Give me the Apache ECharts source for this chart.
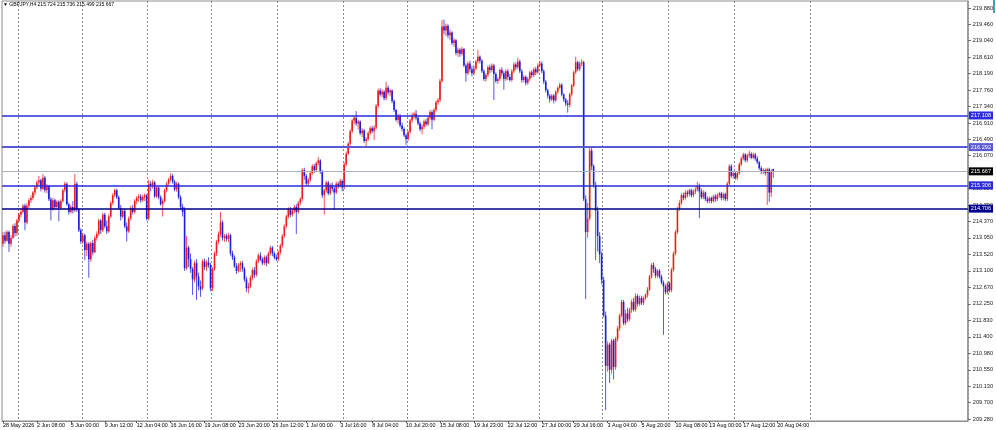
<!DOCTYPE html>
<html><head><meta charset="utf-8">
<script src="https://cdn.jsdelivr.net/npm/echarts@6/dist/echarts.min.js"></script>
<style>html,body{margin:0;padding:0;background:#fff}#c{width:996px;height:430px}</style>
</head><body><div id="c"></div>
<script>
const symbolTitle = 'GBPJPY,H4';
const lastOHLC = ['215.724', '215.736', '215.499', '215.667'];
const timeLabels = ['28 May 2026','2 Jun 08:00','5 Jun 00:00','9 Jun 12:00','12 Jun 04:00','16 Jun 16:00','19 Jun 08:00','23 Jun 20:00','26 Jun 12:00','1 Jul 00:00','3 Jul 16:00','8 Jul 04:00','10 Jul 20:00','15 Jul 08:00','19 Jul 23:00','22 Jul 12:00','27 Jul 00:00','29 Jul 16:00','3 Aug 04:00','5 Aug 20:00','10 Aug 08:00','13 Aug 00:00','17 Aug 12:00','20 Aug 04:00'];
const priceTicks = [219.88,219.46,219.04,218.61,218.19,217.76,217.34,216.91,216.49,216.07,215.65,215.22,214.79,214.37,213.95,213.52,213.10,212.67,212.25,211.83,211.40,210.98,210.55,210.13,209.70,209.28];
const levels = [217.108, 216.292, 215.306, 214.706];
const currentPrice = 215.667;

// candles: [open, close, low, high]
const barsA = [
[213.80,214.02,213.72,214.10],[214.02,213.88,213.80,214.12],[213.88,214.10,213.85,214.15],[214.10,213.80,213.59,214.14],[213.80,213.95,213.72,214.02],
[213.95,214.26,213.92,214.30],[214.26,214.08,213.98,214.33],[214.08,214.40,214.00,214.45],[214.40,214.55,214.36,214.60],[214.55,214.62,214.48,214.70],
[214.62,214.78,214.58,214.82],[214.78,214.35,214.15,214.83],[214.35,214.78,214.30,214.84],[214.78,214.92,214.72,214.97],[214.92,214.98,214.85,215.05],
[214.98,215.12,214.92,215.16],[215.12,215.25,215.05,215.30],[215.25,215.38,215.20,215.43],[215.38,215.44,215.30,215.55],[215.44,215.22,215.15,215.48],
[215.22,215.50,215.18,215.60],[215.50,215.18,215.12,215.55],[215.18,215.28,215.10,215.34],[215.28,214.95,214.90,215.32],[214.95,214.70,214.40,215.00],
[214.70,214.92,214.65,214.98],[214.92,214.75,214.68,214.96],[214.75,214.88,214.70,214.92],[214.88,214.72,214.38,214.92],[214.72,214.90,214.68,214.95],
[214.90,215.18,214.86,215.22],[215.18,215.35,215.12,215.40],[215.35,214.82,214.78,215.38],[214.82,214.62,214.55,214.86],[214.62,214.75,214.58,214.80],
[214.75,214.66,214.58,214.90],[214.66,215.35,214.62,215.60],[215.35,214.68,214.62,215.40],[214.68,214.15,214.10,214.72],[214.15,213.86,213.80,214.20],
[213.86,214.02,213.80,214.08],[214.02,213.64,213.38,214.06],[213.64,213.80,213.48,213.85],[213.80,213.40,212.92,213.84],[213.40,213.82,213.33,213.86],
[213.82,213.58,213.50,213.90],[213.58,213.95,213.55,214.00],[213.95,214.05,213.88,214.12],[214.05,214.40,214.00,214.45],[214.40,214.15,214.05,214.44],
[214.15,214.55,214.10,214.60],[214.55,214.25,214.20,214.60],[214.25,214.12,214.05,214.40],[214.12,214.50,214.08,214.56],[214.50,214.85,214.46,214.90],
[214.85,215.05,214.80,215.10],[215.05,215.18,215.00,215.22],[215.18,215.00,214.95,215.22],[215.00,214.72,214.68,215.04],[214.72,214.50,214.40,214.80],
[214.50,214.65,214.45,214.70],[214.65,214.25,214.20,214.70],[214.25,214.12,213.86,214.35],[214.12,214.45,214.08,214.50],[214.45,214.72,214.40,214.78],
[214.72,214.62,214.55,214.80],[214.62,214.90,214.58,214.95],[214.90,214.98,214.82,215.03],[214.98,215.02,214.88,215.08],[215.02,214.92,214.86,215.08],
[214.92,215.00,214.88,215.06],[215.00,215.05,214.90,215.10],[215.05,214.45,214.40,215.08],[214.45,215.35,214.40,215.45],[215.35,215.30,215.15,215.42],
[215.30,215.38,215.22,215.45],[215.38,215.02,214.98,215.42],[215.02,215.25,214.98,215.30],[215.25,215.00,214.95,215.28],[215.00,214.82,214.78,215.05],
[214.82,214.90,214.50,214.96],[214.90,215.18,214.86,215.22],[215.18,215.35,215.12,215.40],[215.35,215.45,215.30,215.50],[215.45,215.55,215.40,215.62],
[215.55,215.40,215.35,215.60],[215.40,215.20,215.15,215.45],[215.20,215.35,215.14,215.40],[215.35,215.00,214.95,215.38],[215.00,214.75,214.68,215.05],
[214.75,214.62,214.50,214.82],[214.70,213.17,213.10,214.74],[213.17,213.70,213.12,214.00],[213.70,213.40,213.20,213.75],[213.40,213.15,213.05,213.55],
[213.15,212.88,212.48,213.20],[212.88,213.30,212.80,213.36],[213.30,212.95,212.35,213.40],[212.95,212.70,212.60,213.05],[212.70,212.62,212.43,212.85]
];
const barsB = [
[212.65,213.35,212.60,213.40],[213.35,213.20,213.12,213.42],[213.20,213.32,213.10,213.38],[213.32,213.25,213.18,213.45],[213.25,212.65,212.58,213.30],
[212.65,213.15,212.58,213.20],[213.15,213.55,213.10,213.60],[213.55,213.85,213.48,213.90],[213.85,214.05,213.80,214.12],[214.05,214.35,213.98,214.62],
[214.35,213.95,213.88,214.40],[213.95,214.00,213.85,214.05],[214.00,213.92,213.86,214.06],[213.92,214.02,213.84,214.08],[214.02,213.55,213.50,214.06],
[213.55,213.45,213.38,213.62],[213.45,213.22,213.18,213.50],[213.22,213.10,213.02,213.30],[213.10,213.25,213.05,213.30],[213.25,213.30,213.08,213.35],
[213.30,213.15,213.08,213.36],[213.15,212.88,212.82,213.20],[212.88,212.65,212.55,212.95],[212.65,212.70,212.52,212.80],[212.70,212.92,212.65,212.98],
[212.92,213.12,212.85,213.18],[213.12,213.00,212.92,213.20],[213.00,213.35,212.95,213.40],[213.35,213.50,213.30,213.55],[213.50,213.40,213.35,213.58],
[213.40,213.30,213.25,213.45],[213.30,213.45,213.25,213.50],[213.45,213.30,213.22,213.50],[213.30,213.55,213.28,213.60],[213.55,213.70,213.50,213.75],
[213.70,213.55,213.48,213.74],[213.55,213.45,213.40,213.60],[213.45,213.40,213.35,213.52],[213.40,213.58,213.36,213.62],[213.58,213.75,213.52,213.80],
[213.75,214.00,213.70,214.05],[214.00,214.25,213.95,214.30],[214.25,214.50,214.20,214.55],[214.50,214.68,214.45,214.74],[214.68,214.55,214.48,214.75],
[214.55,214.65,214.50,214.70],[214.65,214.75,214.58,214.80],[214.75,214.62,214.05,214.82],[214.62,214.85,214.58,214.90],[214.85,214.95,214.80,215.00],
[214.95,215.70,214.90,215.75],[215.70,215.55,215.45,215.76],[215.55,215.35,215.30,215.60],[215.35,215.45,215.28,215.50],[215.45,215.62,215.40,215.66],
[215.62,215.80,215.58,215.85],[215.80,215.70,215.62,215.86],[215.70,215.88,215.65,215.92],[215.88,215.95,215.82,216.04],[215.95,215.65,215.60,215.98],
[215.65,215.05,214.98,215.70],[215.05,215.18,214.55,215.22],[215.18,215.38,215.12,215.42],[215.38,215.10,215.05,215.42],[215.10,215.32,215.05,215.36],
[215.32,215.22,215.15,215.38],[215.22,215.12,214.67,215.28],[215.12,215.35,215.08,215.40],[215.35,215.28,215.22,215.40],[215.28,215.42,215.25,215.48],
[215.42,215.25,215.15,215.46],[215.25,215.85,215.20,215.90],[215.85,216.12,215.80,216.18],[216.12,216.38,216.08,216.42],[216.38,216.70,216.34,216.75],
[216.70,216.98,216.65,217.02],[216.98,217.05,216.88,217.10],[217.05,216.90,216.84,217.22],[216.90,216.95,216.75,217.00],[216.95,216.65,216.60,216.98],
[216.65,216.72,216.55,216.78],[216.72,216.45,216.40,216.76],[216.45,216.50,216.30,216.55],[216.50,216.65,216.45,216.70],[216.65,216.78,216.60,216.82],
[216.78,216.70,216.65,216.84],[216.70,216.80,216.48,216.85],[216.80,217.35,216.75,217.40],[217.35,217.75,217.30,217.80],[217.75,217.65,217.60,217.82],
[217.65,217.72,217.58,217.78],[217.72,217.55,217.50,217.76],[217.55,217.82,217.50,217.98],[217.82,217.70,217.64,217.88],[217.70,217.75,217.60,217.80],
[217.75,217.48,217.42,217.78],[217.48,217.25,217.20,217.52],[217.25,216.99,216.95,217.28],[216.99,217.10,216.90,217.15],[217.10,216.85,216.80,217.14],
[216.85,216.76,216.70,216.92],[216.76,216.60,216.55,216.80],[216.60,216.50,216.35,216.64],[216.50,216.68,216.45,216.72],[216.68,216.98,216.64,217.02],
[216.98,217.12,216.92,217.18],[217.12,217.15,217.02,217.20],[217.15,217.05,216.98,217.25],[217.05,216.90,216.85,217.10],[216.90,216.75,216.70,216.95],
[216.75,216.82,216.62,216.88],[216.82,216.95,216.76,217.00],[216.95,216.88,216.82,217.02],[216.88,217.05,216.84,217.10],[217.05,217.20,217.00,217.25],
[217.20,217.00,216.75,217.24],[217.00,217.25,216.96,217.30],[217.25,217.45,217.20,217.50],[217.45,217.50,217.38,217.56],[217.50,218.00,217.45,218.05],
[218.00,219.40,217.95,219.57]
];
const barsC = [
[219.40,219.30,219.20,219.58],[219.30,219.42,219.15,219.48],[219.42,219.18,219.10,219.46],[219.18,219.25,219.05,219.32],[219.25,218.98,218.92,219.28],
[218.98,219.05,218.88,219.10],[219.05,218.72,218.66,219.08],[218.72,218.80,218.62,218.86],[218.80,218.70,218.62,218.85],[218.70,218.82,218.65,218.88],
[218.82,218.40,218.35,218.85],[218.40,218.20,217.98,218.45],[218.20,218.45,218.15,218.50],[218.45,218.30,218.22,218.52],[218.30,218.20,218.12,218.38],
[218.20,218.32,218.15,218.38],[218.32,218.50,218.28,218.55],[218.50,218.62,218.45,218.80],[218.62,218.52,218.45,218.66],[218.52,218.25,218.20,218.56],
[218.25,218.05,218.00,218.30],[218.05,218.15,217.98,218.20],[218.15,218.35,218.10,218.40],[218.35,218.28,218.20,218.42],[218.28,218.40,218.22,218.45],
[218.40,218.18,217.51,218.44],[218.18,218.00,217.95,218.22],[218.00,218.05,217.92,218.10],[218.05,218.28,218.00,218.32],[218.28,218.20,218.12,218.35],
[218.20,218.05,217.77,218.25],[218.05,218.25,218.00,218.30],[218.25,218.10,218.02,218.30],[218.10,218.02,217.98,218.18],[218.02,218.25,217.98,218.30],
[218.25,218.42,218.20,218.48],[218.42,218.35,218.28,218.48],[218.35,218.50,218.30,218.60],[218.50,218.25,218.20,218.55],[218.25,218.02,217.96,218.30],
[218.02,218.10,217.96,218.15],[218.10,217.95,217.88,218.14],[217.95,218.05,217.90,218.10],[218.05,218.22,218.00,218.26],[218.22,218.15,218.08,218.28],
[218.15,218.30,218.10,218.34],[218.30,218.22,218.15,218.36],[218.22,218.40,218.18,218.45],[218.40,218.45,218.35,218.52],[218.45,218.25,218.20,218.50],
[218.25,217.98,217.92,218.30],[217.98,217.76,217.70,218.02],[217.76,217.62,217.55,217.80],[217.62,217.52,217.44,217.66],[217.52,217.62,217.48,217.66],
[217.62,217.50,217.42,217.66],[217.50,217.72,217.46,217.76],[217.72,217.82,217.66,217.86],[217.82,217.90,217.78,217.95],[217.90,217.65,217.60,217.94],
[217.65,217.52,217.46,217.68],[217.52,217.42,217.35,217.56],[217.42,217.38,217.18,217.50],[217.38,217.65,217.32,217.70],[217.65,217.88,217.60,217.92],
[217.88,218.22,217.84,218.26],[218.22,218.48,218.18,218.62],[218.48,218.30,218.25,218.52],[218.30,218.45,218.25,218.50],[218.45,218.48,218.38,218.56],
[218.48,214.95,214.90,218.52]
];
const barsD = [
[214.95,214.10,212.37,215.05],[214.10,214.45,213.95,214.85],[214.45,216.20,214.40,216.30],[216.20,215.80,215.70,216.28],[215.80,215.32,215.25,215.85],
[215.32,214.65,213.38,215.40],[214.65,214.00,213.60,214.75],[214.00,213.52,213.30,214.10],[213.52,212.87,212.75,213.60],[212.87,211.95,211.90,212.95],
[211.95,210.65,209.51,212.05],[210.65,211.20,210.50,211.28],[211.20,210.55,210.21,211.25],[210.55,211.30,210.45,211.35],[211.30,210.62,210.30,211.35],
[210.62,211.35,210.55,211.40],[211.35,211.62,211.28,211.68],[211.62,211.95,211.55,212.00],[211.95,212.30,211.90,212.35],[212.30,211.75,211.70,212.35],
[211.75,212.00,211.70,212.10],[212.00,211.85,211.78,212.15],[211.85,212.10,211.80,212.15],[212.10,212.30,212.02,212.36],[212.30,212.10,212.05,212.40],
[212.10,212.45,212.05,212.52],[212.45,212.25,212.18,212.50],[212.25,212.40,212.20,212.46],[212.40,212.28,212.22,212.46],[212.28,212.40,212.22,212.44],
[212.40,212.48,212.35,212.52],[212.48,212.62,212.42,212.68],[212.62,212.95,212.58,213.00],[212.95,213.25,212.90,213.30],[213.25,213.15,213.05,213.32],
[213.15,212.98,212.92,213.20],[212.98,213.10,212.92,213.14],[213.10,212.95,212.90,213.15],[212.95,212.80,212.75,213.00],[212.80,212.70,211.45,212.85],
[212.70,212.55,212.50,212.75],[212.55,212.78,212.50,212.82],[212.78,212.60,212.55,212.82],[212.60,213.12,212.55,213.18],[213.12,213.55,213.08,213.60],
[213.55,214.10,213.50,214.15],[214.10,214.70,214.05,214.75],[214.70,214.85,214.65,214.92],[214.85,215.05,214.80,215.10],[215.05,214.98,214.92,215.12],
[214.98,215.12,214.94,215.18],[215.12,215.08,215.00,215.18],[215.08,215.18,215.02,215.22],[215.18,215.05,215.00,215.22],[215.05,215.15,215.00,215.20],
[215.15,215.20,215.08,215.26],[215.20,215.30,215.15,215.40],[215.30,215.15,214.46,215.35],[215.15,215.00,214.95,215.22],[215.00,215.12,214.95,215.18],
[215.12,214.95,214.90,215.15],[214.95,214.90,214.84,215.02],[214.90,214.98,214.85,215.02],[214.98,214.90,214.84,215.02],[214.90,215.02,214.86,215.06],
[215.02,214.95,214.88,215.08],[214.95,215.05,214.90,215.10],[215.05,215.10,214.98,215.14],[215.10,214.98,214.92,215.14],[214.98,215.08,214.92,215.12],
[215.08,214.95,214.90,215.12],[214.95,215.35,214.90,215.40],[215.35,215.80,215.30,215.85],[215.80,215.55,215.50,215.85],[215.55,215.62,215.48,215.68],
[215.62,215.50,215.45,215.66],[215.50,215.62,215.44,215.66],[215.62,215.85,215.58,215.90],[215.85,216.00,215.80,216.05],[216.00,216.10,215.95,216.15],
[216.10,215.95,215.90,216.14],[215.95,216.08,215.90,216.12],[216.08,216.12,216.02,216.20],[216.12,216.02,215.98,216.16],[216.02,216.10,215.98,216.15],
[216.10,216.00,215.94,216.14],[216.00,215.90,215.86,216.06],[215.90,215.75,215.70,215.94],[215.75,215.65,215.60,215.80],[215.65,215.70,215.60,215.75],
[215.70,215.62,215.56,215.74],[215.62,215.72,214.80,215.76],[215.72,215.12,214.88,215.76],[215.12,215.68,215.00,215.72],[215.724,215.667,215.499,215.736]
];

const candles = barsA.concat(barsB, barsC, barsD);

// layout helpers (axis slots, label spacing, grid spacing)
const SLOTS = 484;
const LABEL_STEP = 16.85;
const cats = [];
for (let i = 0; i < SLOTS; i++) cats.push(String(i));
const labelAt = {};
timeLabels.forEach((t, k) => { labelAt[Math.round(k * LABEL_STEP)] = t; });
const gridSet = new Set();
for (let k = 0; k < 12; k++) gridSet.add(Math.round(7.5 + 32.65 * k));
gridSet.add(405);

const UP = '#ec1c1c', DOWN = '#1c1ce2';
const levelStyles = [
  {c: '#2b2bdc', w: 1.6},
  {c: '#5a5ad2', w: 2},
  {c: '#2b2bdc', w: 1.6},
  {c: '#00008a', w: 1.5}
];
const FONT = 'Liberation Sans';

const markData = levels.map((v, k) => ({
  yAxis: v,
  lineStyle: {color: levelStyles[k].c, width: levelStyles[k].w, type: 'solid'},
  label: {backgroundColor: levelStyles[k].c}
}));
markData.push({
  yAxis: currentPrice,
  lineStyle: {color: '#aab1bc', width: 1, type: 'solid'},
  label: {backgroundColor: '#000'}
});

const seriesData = candles.map((b, i) => [i, b[0], b[1], b[2], b[3]]);

function renderCandle(params, api) {
  const x = api.value(0);
  const o = api.value(1), c = api.value(2), l = api.value(3), h = api.value(4);
  const po = api.coord([x, o]), pc = api.coord([x, c]);
  const pl = api.coord([x, l]), ph = api.coord([x, h]);
  const up = c >= o;
  const col = up ? UP : DOWN;
  const bw = 1.6;
  const top = Math.min(po[1], pc[1]);
  const hgt = Math.max(1, Math.abs(po[1] - pc[1]));
  return {
    type: 'group',
    children: [
      {type: 'line', shape: {x1: po[0], y1: ph[1], x2: po[0], y2: pl[1]}, style: {stroke: col, lineWidth: 1, opacity: 0.75}},
      {type: 'rect', shape: {x: po[0] - bw / 2, y: top, width: bw, height: hgt}, style: {fill: col}}
    ]
  };
}

const chart = echarts.init(document.getElementById('c'), null, {renderer: 'canvas'});
chart.setOption({
  animation: false,
  backgroundColor: '#ffffff',
  textStyle: {fontFamily: FONT},
  title: {
    text: '▼ ' + symbolTitle + ' ' + lastOHLC.join(' '),
    left: 3, top: 2, padding: 0,
    textStyle: {fontSize: 5, fontWeight: 'normal', color: '#000', fontFamily: FONT}
  },
  graphic: [{type: 'rect', right: 1, top: 0, shape: {width: 2, height: 13}, style: {fill: '#3aa8a8'}}],
  grid: {left: 1, right: 28, top: 1, bottom: 9, show: true, borderColor: '#8c8c8c', borderWidth: 1},
  xAxis: {
    type: 'category', data: cats, boundaryGap: true,
    axisLine: {lineStyle: {color: '#8c8c8c', width: 1}},
    axisTick: {show: true, alignWithLabel: true, interval: (i) => (i in labelAt), length: 2, lineStyle: {color: '#555'}},
    axisLabel: {interval: 0, formatter: (v, i) => labelAt[i] || '', align: 'left', margin: 2, fontSize: 5.4, color: '#000', fontFamily: FONT},
    splitLine: {show: true, interval: (i) => gridSet.has(i), lineStyle: {color: '#8a8a8a', type: [2, 2], width: 1}}
  },
  yAxis: {
    type: 'value', position: 'right', min: 209.2284, max: 220.0605,
    axisLine: {show: true, lineStyle: {color: '#9a9a9a', width: 1.5}},
    axisTick: {show: true, customValues: priceTicks, length: 3, lineStyle: {color: '#666'}},
    axisLabel: {customValues: priceTicks, formatter: (v) => v.toFixed(3), fontSize: 5.6, color: '#222', margin: 5, fontFamily: FONT},
    splitLine: {show: false}
  },
  series: [{
    type: 'custom',
    renderItem: renderCandle,
    data: seriesData,
    encode: {x: 0, y: [1, 2, 3, 4]},
    clip: true,
    markLine: {
      symbol: 'none', silent: true, animation: false, precision: 3,
      label: {show: true, position: 'end', distance: 1, formatter: (p) => Number(p.value).toFixed(3), color: '#fff', fontSize: 5.6, padding: [1, 2, 1, 2], fontFamily: FONT},
      data: markData
    }
  }]
});
</script>
</body></html>
